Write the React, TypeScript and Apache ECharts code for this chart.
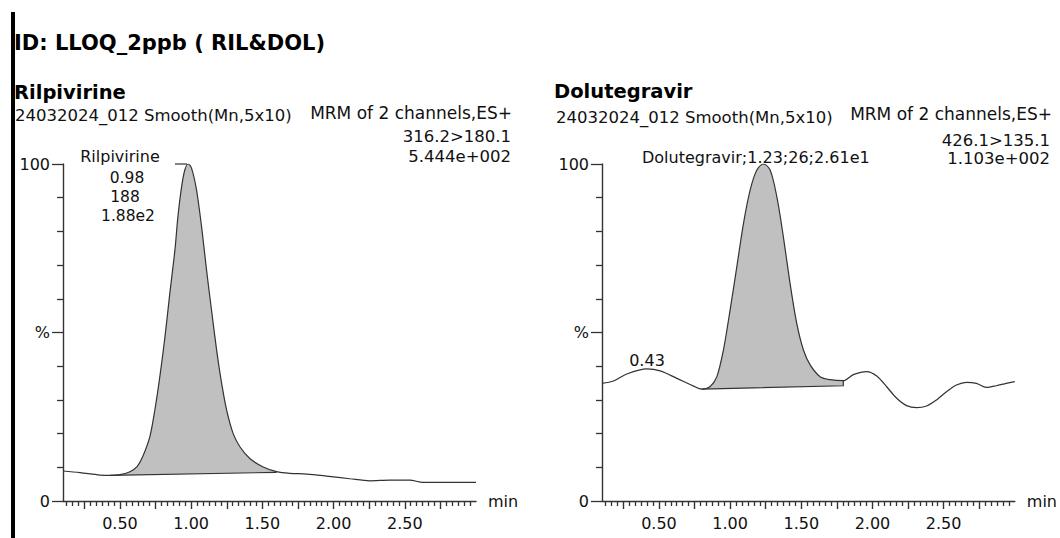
import React, { useEffect, useRef } from "react";
import * as echarts from "echarts";

// ---------- data ----------
const xLabelValues = [0.5, 1.0, 1.5, 2.0, 2.5];
const xMajorTickValues = [0.25, 0.5, 0.75, 1.0, 1.25, 1.5, 1.75, 2.0, 2.25, 2.5, 2.75];
const yLabelValues = [0, 50, 100];
const yMinorTickValues = [10, 20, 30, 40, 60, 70, 80, 90];

const rilTime = [0.10, 0.22, 0.36, 0.43, 0.50, 0.57, 0.62, 0.66, 0.71, 0.745, 0.78, 0.816, 0.85, 0.886, 0.907, 0.933, 0.956, 0.98, 1.003, 1.038, 1.073, 1.108, 1.143, 1.179, 1.214, 1.249, 1.295, 1.342, 1.412, 1.506, 1.60, 1.693, 1.81, 1.95, 2.114, 2.254, 2.395, 2.535, 2.628, 2.816, 3.0];
const rilIntensity = [8.9, 8.4, 7.7, 7.6, 7.8, 8.7, 10.2, 13.2, 19.1, 27, 36.9, 48.7, 61.6, 74.5, 84.4, 93.3, 98.3, 100, 98.7, 92.2, 81.4, 68.5, 56.6, 44.7, 34.9, 27, 20, 16.1, 12.6, 10.1, 8.7, 8.2, 8.0, 7.4, 6.6, 6.0, 6.2, 6.2, 5.5, 5.5, 5.5];
const rilBaseline = [[0.43, 7.6], [1.60, 8.5]];

const dolTime = [0.10, 0.181, 0.275, 0.416, 0.509, 0.626, 0.743, 0.80, 0.858, 0.907, 0.953, 1.00, 1.047, 1.094, 1.141, 1.188, 1.234, 1.281, 1.328, 1.374, 1.421, 1.468, 1.515, 1.562, 1.632, 1.703, 1.795, 1.866, 1.96, 2.03, 2.10, 2.17, 2.24, 2.31, 2.38, 2.45, 2.52, 2.59, 2.66, 2.73, 2.80, 2.87, 2.94, 3.0];
const dolIntensity = [34.9, 35.6, 37.7, 39.2, 38.6, 36.4, 34.1, 33.2, 33.9, 36.9, 44.8, 56.7, 69.5, 82.4, 92.3, 98.2, 100, 98.2, 90.3, 78.4, 64.6, 52.7, 44.8, 40.4, 36.9, 36.0, 35.7, 37.5, 38.4, 37.1, 33.9, 30.5, 28.3, 27.7, 28.2, 30.0, 32.4, 34.4, 35.2, 34.9, 33.7, 34.2, 34.9, 35.4];
const dolBaseline = [[0.80, 33.2], [1.795, 34.2]];

// ---------- styles ----------
const FONT = "DejaVu Sans";
const AXIS_COLOR = "#333";
const LINE_COLOR = "#333";
const FILL_COLOR = "#c0c0c0";
const TEXT_COLOR = "#111";

// minor x ticks every 1/24 min (excluding the 0.25 marks)
const xMinorTickValues: number[] = [];
for (let k = 3; k <= 72; k++) {
  const v = k / 24;
  if (k % 6 !== 0 && v >= 0.1 && v <= 3.0) xMinorTickValues.push(+v.toFixed(4));
}

const zip = (t: number[], y: number[]) => t.map((x, i) => [x, y[i]]);

function peakRender(time: number[], inten: number[], base: number[][], closeEdge: boolean) {
  return (params: any, api: any) => {
    if (params.dataIndex !== 0) return null;
    const [b0, b1] = base;
    const pts: number[][] = [];
    for (let i = 0; i < time.length; i++) {
      if (time[i] >= b0[0] - 1e-9 && time[i] <= b1[0] + 1e-9) pts.push(api.coord([time[i], inten[i]]));
    }
    const p0 = api.coord(b0);
    const p1 = api.coord(b1);
    const poly = [...pts, p1, p0];
    const edge = closeEdge ? [p0, p1, pts[pts.length - 1]] : [p0, p1];
    return {
      type: "group",
      children: [
        { type: "polygon", shape: { points: poly }, style: { fill: FILL_COLOR, stroke: null } },
        { type: "polyline", shape: { points: edge }, style: { stroke: LINE_COLOR, lineWidth: 1.2, fill: null } },
      ],
    };
  };
}

function xAxesFor(gridIndex: number) {
  return [
    {
      gridIndex,
      type: "value",
      min: 0.1,
      max: 3.0,
      position: "bottom",
      name: "min",
      nameLocation: "end",
      nameGap: 12,
      nameTextStyle: { fontFamily: FONT, fontSize: 16, color: TEXT_COLOR, verticalAlign: "middle" },
      axisLine: { show: true, onZero: false, lineStyle: { color: AXIS_COLOR, width: 1.4 } },
      axisTick: { show: true, inside: false, customValues: xMajorTickValues, length: 8, lineStyle: { color: AXIS_COLOR, width: 1.4 } },
      axisLabel: {
        show: true,
        customValues: xLabelValues,
        formatter: (v: number) => v.toFixed(2),
        margin: 14,
        fontFamily: FONT,
        fontSize: 16,
        color: TEXT_COLOR,
      },
      splitLine: { show: false },
    },
    {
      gridIndex,
      type: "value",
      min: 0.1,
      max: 3.0,
      position: "bottom",
      axisLine: { show: false, onZero: false },
      axisTick: { show: true, inside: false, customValues: xMinorTickValues, length: 5, lineStyle: { color: AXIS_COLOR, width: 1.3 } },
      axisLabel: { show: false },
      splitLine: { show: false },
    },
  ];
}

function yAxesFor(gridIndex: number) {
  return [
    {
      gridIndex,
      type: "value",
      min: 0,
      max: 100,
      position: "left",
      axisLine: { show: true, onZero: false, lineStyle: { color: AXIS_COLOR, width: 1.4 } },
      axisTick: { show: true, customValues: yLabelValues, length: 11, lineStyle: { color: AXIS_COLOR, width: 1.3 } },
      axisLabel: {
        show: true,
        customValues: yLabelValues,
        formatter: (v: number) => (v === 50 ? "%" : String(v)),
        margin: 13,
        fontFamily: FONT,
        fontSize: 16,
        color: TEXT_COLOR,
      },
      splitLine: { show: false },
    },
    {
      gridIndex,
      type: "value",
      min: 0,
      max: 100,
      position: "left",
      axisLine: { show: false, onZero: false },
      axisTick: { show: true, customValues: yMinorTickValues, length: 6, lineStyle: { color: AXIS_COLOR, width: 1.3 } },
      axisLabel: { show: false },
      splitLine: { show: false },
    },
  ];
}

function txt(text: string, x: number, y: number, opts: any = {}) {
  const align = opts.align || "left";
  return {
    type: "text",
    x,
    y,
    silent: true,
    style: {
      text,
      fontFamily: FONT,
      fontSize: opts.size || 16,
      fontWeight: opts.bold ? "bold" : "normal",
      fill: opts.color || TEXT_COLOR,
      align,
      textAlign: align,
      verticalAlign: "middle",
      textVerticalAlign: "middle",
    },
  };
}

export default function App() {
  const ref = useRef<HTMLDivElement>(null);

  useEffect(() => {
    if (!ref.current) return;
    const chart = echarts.init(ref.current, undefined, { renderer: "svg" });

    const option: any = {
      animation: false,
      backgroundColor: "#fff",
      grid: [
        { left: 63, right: 584, top: 164, bottom: 37 },
        { left: 602, right: 45, top: 164, bottom: 37 },
      ],
      xAxis: [...xAxesFor(0), ...xAxesFor(1)],
      yAxis: [...yAxesFor(0), ...yAxesFor(1)],
      series: [
        {
          type: "custom",
          name: "Rilpivirine peak",
          xAxisIndex: 0,
          yAxisIndex: 0,
          z: 2,
          silent: true,
          data: zip(rilTime, rilIntensity).filter((p) => p[0] >= rilBaseline[0][0] && p[0] <= rilBaseline[1][0]),
          encode: { x: 0, y: 1 },
          renderItem: peakRender(rilTime, rilIntensity, rilBaseline, false),
        },
        {
          type: "line",
          name: "Rilpivirine",
          xAxisIndex: 0,
          yAxisIndex: 0,
          z: 3,
          data: zip(rilTime, rilIntensity),
          smooth: 0.3,
          showSymbol: false,
          symbol: "none",
          lineStyle: { color: LINE_COLOR, width: 1.2 },
        },
        {
          type: "custom",
          name: "Dolutegravir peak",
          xAxisIndex: 2,
          yAxisIndex: 2,
          z: 2,
          silent: true,
          data: zip(dolTime, dolIntensity).filter((p) => p[0] >= dolBaseline[0][0] && p[0] <= dolBaseline[1][0]),
          encode: { x: 0, y: 1 },
          renderItem: peakRender(dolTime, dolIntensity, dolBaseline, true),
        },
        {
          type: "line",
          name: "Dolutegravir",
          xAxisIndex: 2,
          yAxisIndex: 2,
          z: 3,
          data: zip(dolTime, dolIntensity),
          smooth: 0.3,
          showSymbol: false,
          symbol: "none",
          lineStyle: { color: LINE_COLOR, width: 1.2 },
        },
      ],
      graphic: [
        { type: "rect", shape: { x: 11, y: 12, width: 4, height: 526 }, style: { fill: "#000" }, silent: true },
        txt("ID: LLOQ_2ppb ( RIL&DOL)", 14, 43, { bold: true, size: 21, color: "#000" }),
        txt("Rilpivirine", 14, 92.4, { bold: true, size: 19.5, color: "#000" }),
        txt("24032024_012 Smooth(Mn,5x10)", 15, 115, { size: 16.5 }),
        txt("MRM of 2 channels,ES+", 512, 113, { size: 17, align: "right" }),
        txt("316.2>180.1", 511, 136.7, { size: 16.5, align: "right" }),
        txt("5.444e+002", 511, 156.7, { size: 16.5, align: "right" }),
        txt("Rilpivirine", 120, 156.7, { size: 16, align: "center" }),
        txt("0.98", 127, 177.5, { size: 15.5, align: "center" }),
        txt("188", 125, 196.5, { size: 15.5, align: "center" }),
        txt("1.88e2", 128, 215.5, { size: 15.5, align: "center" }),
        { type: "line", shape: { x1: 175, y1: 164, x2: 187, y2: 164 }, style: { stroke: LINE_COLOR, lineWidth: 1.2 }, silent: true },
        txt("Dolutegravir", 554, 91.5, { bold: true, size: 19.5, color: "#000" }),
        txt("24032024_012 Smooth(Mn,5x10)", 556, 117, { size: 16.5 }),
        txt("MRM of 2 channels,ES+", 1052, 114, { size: 17, align: "right" }),
        txt("426.1>135.1", 1050, 140.5, { size: 16.5, align: "right" }),
        txt("1.103e+002", 1050, 158.5, { size: 16.5, align: "right" }),
        txt("Dolutegravir;1.23;26;2.61e1", 642, 157.7, { size: 16 }),
        txt("0.43", 647, 360.2, { size: 16, align: "center" }),
      ],
    };

    chart.setOption(option);
    return () => chart.dispose();
  }, []);

  return (
    <div
      ref={ref}
      style={{ position: "fixed", left: 0, top: 0, width: 1060, height: 538, background: "#fff" }}
    />
  );
}
